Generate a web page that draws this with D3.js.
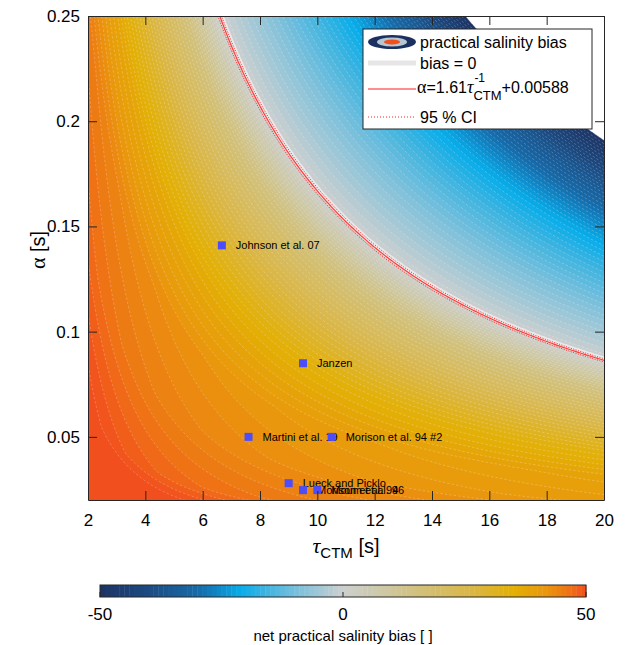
<!DOCTYPE html>
<html>
<head>
<meta charset="utf-8">
<script src="https://cdn.jsdelivr.net/npm/d3@7"></script>
<style>
    body { margin: 0; background: #fff; }
    text { font-family: "Liberation Sans", Arial, sans-serif; fill: #000; }
</style>
</head>
<body>
<div id="chart"></div>
<script>
// ——— DATA —————————————————————————————————————————————————————————
const tauDomain = [2, 20];
const alphaDomain = [0.02, 0.25];
const tauTicks = [2, 4, 6, 8, 10, 12, 14, 16, 18, 20];
const alphaTicks = [0.05, 0.1, 0.15, 0.2, 0.25];
const alphaTickLabels = ["0.05", "0.1", "0.15", "0.2", "0.25"];

const uKnots    = [0, 0.12, 0.28, 0.5, 0.75, 0.96, 1.34, 1.62, 2.2, 2.75, 3.2, 3.7, 5];
const biasKnots = [54, 47, 44, 42, 36, 29, 15, 0, -11, -22, -34, -50, -90];
// positive bias weakens slowly with tau: factor (tau / tauRef) ^ -tauExp
const tauRef = [6];
const tauExp = [0.07];

const levels = d3.range(-50, 51, 1);

// fit  alpha = a / tau + b, and the 95 % CI bounds
const fitCoef = [1.61, 0.00588];
const ciLow = [1.595, 0.00588];
const ciHigh = [1.625, 0.00588];

const pointNames = ["Johnson et al. 07", "Janzen", "Martini et al. 19", "Morison et al. 94 #2",
    "Lueck and Picklo", "Morison et al. 94", "Moum et al. 96"];
const pointTau = [6.67, 9.5, 7.6, 10.5, 9.0, 9.5, 10.0];
const pointAlpha = [0.141, 0.085, 0.05, 0.05, 0.028, 0.0247, 0.0247];

const cbTicks = [-50, 0, 50];
const cmapStops = [-50, -40, -30, -25, -21, -16, -10, -4, 0, 6, 16, 27, 35, 41, 46, 50];
const cmapColors = ["#1c3363", "#1c4b82", "#1769a8", "#0e8dcc", "#08adea", "#3db4e0", "#76bfdc",
    "#a9c9d5", "#cdcfcf", "#cdcab0", "#d2c07a", "#dbb642", "#e2b005", "#e89a0c", "#ee7814", "#f24f1e"];

// ——— SETUP ————————————————————————————————————————————————————————
const width = 628;
const height = 645;
const plot = { x0: 88, x1: 604, y0: 16, y1: 500 };
const axisColor = "#262626";

const svg = d3.select("#chart").append("svg")
    .attr("width", width)
    .attr("height", height);

const xScale = d3.scaleLinear().domain(tauDomain).range([plot.x0, plot.x1]);
const yScale = d3.scaleLinear().domain(alphaDomain).range([plot.y1, plot.y0]);
const biasOfU = d3.scaleLinear().domain(uKnots).range(biasKnots).clamp(false);
const color = d3.scaleLinear().domain(cmapStops).range(cmapColors).clamp(true);

function bias(tau, alpha) {
    const b = biasOfU((alpha - fitCoef[1]) * tau);
    return b > 0 ? b * Math.pow(tau / tauRef[0], -tauExp[0]) : b;
}

svg.append("clipPath").attr("id", "plotClip")
    .append("rect")
    .attr("x", plot.x0).attr("y", plot.y0)
    .attr("width", plot.x1 - plot.x0).attr("height", plot.y1 - plot.y0);

// ——— FIELD ————————————————————————————————————————————————————————
// one extra cell on every side so the grid border lies outside the clip
const nx = 261, ny = 245;
const dTau = (tauDomain[1] - tauDomain[0]) / (nx - 3);
const dAlpha = (alphaDomain[1] - alphaDomain[0]) / (ny - 3);
const tauOf = (gx) => tauDomain[0] + (gx - 1.5) * dTau;
const alphaOf = (gy) => alphaDomain[1] - (gy - 1.5) * dAlpha;

const values = new Array(nx * ny);
for (let j = 0; j < ny; j++) {
    for (let i = 0; i < nx; i++) {
        values[j * nx + i] = bias(tauOf(i + 0.5), alphaOf(j + 0.5));
    }
}

const projection = d3.geoTransform({
    point: function (x, y) {
        this.stream.point(xScale(tauOf(x)), yScale(alphaOf(y)));
    }
});
const path = d3.geoPath(projection);
const contours = d3.contours().size([nx, ny]).thresholds(levels)(values);

const field = svg.append("g").attr("clip-path", "url(#plotClip)");

field.selectAll("path.band")
    .data(contours)
    .enter()
    .append("path")
    .attr("class", "band")
    .attr("d", path)
    .attr("fill", (d) => color(Math.min(d.value + 0.5, 50)))
    .attr("fill-rule", "evenodd")
    .attr("stroke", (d) => color(Math.min(d.value + 0.5, 50)))
    .attr("stroke-width", 0.3);

field.selectAll("path.iso")
    .data(contours.filter((d) => d.value !== 0))
    .enter()
    .append("path")
    .attr("class", "iso")
    .attr("d", path)
    .attr("fill", "none")
    .attr("stroke", "#fff")
    .attr("stroke-opacity", 0.32)
    .attr("stroke-width", 0.7)
    .attr("stroke-dasharray", "2.5,2");

// ——— ZERO LINE + FIT ——————————————————————————————————————————————
field.append("path")
    .datum(contours.find((d) => d.value === 0))
    .attr("d", path)
    .attr("fill", "none")
    .attr("stroke", "#e9e9e9")
    .attr("stroke-width", 5);

const tauLine = d3.range(6.3, 20.05, 0.05);
const fitLine = (coef) => d3.line()
    .x((t) => xScale(t))
    .y((t) => yScale(coef[0] / t + coef[1]))(tauLine);

field.append("path")
    .attr("d", fitLine(fitCoef))
    .attr("fill", "none")
    .attr("stroke", "#ff3b3b")
    .attr("stroke-width", 1.2);

[ciLow, ciHigh].forEach((c) => {
    field.append("path")
        .attr("d", fitLine(c))
        .attr("fill", "none")
        .attr("stroke", "#ff2020")
        .attr("stroke-width", 1)
        .attr("stroke-dasharray", "1,1.5");
});

// ——— POINTS ———————————————————————————————————————————————————————
const points = svg.append("g");
pointNames.forEach((name, k) => {
    const px = xScale(pointTau[k]);
    const py = yScale(pointAlpha[k]);
    points.append("rect")
        .attr("x", px - 4).attr("y", py - 4)
        .attr("width", 8).attr("height", 8)
        .attr("fill", "#4d4dfa");
    points.append("text")
        .attr("x", px + 14).attr("y", py)
        .attr("dy", "0.35em")
        .style("font-size", "11px")
        .text(name);
});

// ——— AXES —————————————————————————————————————————————————————————
const tick = 9;
const styleAxis = (g) => {
    g.selectAll("path,line").attr("stroke", axisColor);
    g.selectAll("text").style("font-size", "17px").attr("fill", "#000")
        .style("font-family", "'Liberation Sans', Arial, sans-serif");
};

svg.append("g")
    .attr("transform", `translate(0,${plot.y1})`)
    .call(d3.axisBottom(xScale).tickValues(tauTicks).tickSizeInner(-tick).tickSizeOuter(0).tickPadding(14))
    .call(styleAxis);
svg.append("g")
    .attr("transform", `translate(0,${plot.y0})`)
    .call(d3.axisTop(xScale).tickValues(tauTicks).tickSizeInner(-tick).tickSizeOuter(0).tickFormat(""))
    .call(styleAxis);
svg.append("g")
    .attr("transform", `translate(${plot.x0},0)`)
    .call(d3.axisLeft(yScale).tickValues(alphaTicks).tickSizeInner(-tick).tickSizeOuter(0).tickPadding(8)
        .tickFormat((d, i) => alphaTickLabels[i]))
    .call(styleAxis);
svg.append("g")
    .attr("transform", `translate(${plot.x1},0)`)
    .call(d3.axisRight(yScale).tickValues(alphaTicks).tickSizeInner(-tick).tickSizeOuter(0).tickFormat(""))
    .call(styleAxis);

// x label
const xl = svg.append("text")
    .attr("x", (plot.x0 + plot.x1) / 2)
    .attr("y", 553)
    .attr("text-anchor", "middle")
    .style("font-size", "20px");
xl.append("tspan").style("font-family", "'Liberation Serif', serif").style("font-style", "italic")
    .style("font-size", "22px").text("τ");
xl.append("tspan").attr("dy", 5).style("font-size", "15px").text("CTM");
xl.append("tspan").attr("dy", -5).text(" [s]");

// y label
const yl = svg.append("text")
    .attr("transform", "translate(45,250) rotate(-90)")
    .attr("text-anchor", "middle")
    .style("font-size", "20px");
yl.append("tspan").style("font-family", "'Liberation Serif', serif").style("font-size", "22px").text("α");
yl.append("tspan").text(" [s]");

// ——— LEGEND ———————————————————————————————————————————————————————
const lg = svg.append("g");
lg.append("rect")
    .attr("x", 363).attr("y", 29)
    .attr("width", 229).attr("height", 100)
    .attr("fill", "#fff")
    .attr("stroke", axisColor);

const iconX = 392, textX = 420;
const rows = [42, 63, 89, 117];

lg.append("ellipse").attr("cx", iconX).attr("cy", rows[0]).attr("rx", 24).attr("ry", 7).attr("fill", "#1b2f60");
lg.append("ellipse").attr("cx", iconX).attr("cy", rows[0]).attr("rx", 15).attr("ry", 4.5).attr("fill", "#b6c7d0");
lg.append("ellipse").attr("cx", iconX).attr("cy", rows[0]).attr("rx", 8).attr("ry", 2.6).attr("fill", "#f24f1e");
lg.append("text").attr("x", textX).attr("y", rows[0] + 6).style("font-size", "16px").text("practical salinity bias");

lg.append("line").attr("x1", 368).attr("x2", 416).attr("y1", rows[1]).attr("y2", rows[1])
    .attr("stroke", "#e6e6e6").attr("stroke-width", 5);
lg.append("text").attr("x", textX).attr("y", rows[1] + 6).style("font-size", "16px").text("bias = 0");

lg.append("line").attr("x1", 368).attr("x2", 416).attr("y1", rows[2]).attr("y2", rows[2])
    .attr("stroke", "#ff6a6a").attr("stroke-width", 1.3);
const t1 = lg.append("text").attr("x", textX - 3).attr("y", rows[2] + 4).style("font-size", "16px");
t1.append("tspan").style("font-family", "'Liberation Serif', serif").style("font-size", "18px").text("α");
t1.append("tspan").text("=1.61");
t1.append("tspan").style("font-family", "'Liberation Serif', serif").style("font-style", "italic")
    .style("font-size", "18px").text("τ");
const w1 = t1.node().getComputedTextLength();
lg.append("text").attr("x", textX - 3 + w1 + 1).attr("y", rows[2] - 7).style("font-size", "12px").text("-1");
const sub = lg.append("text").attr("x", textX - 3 + w1).attr("y", rows[2] + 11).style("font-size", "13px").text("CTM");
const w2 = sub.node().getComputedTextLength();
lg.append("text").attr("x", textX - 3 + w1 + w2).attr("y", rows[2] + 4).style("font-size", "16px").text("+0.00588");

lg.append("line").attr("x1", 368).attr("x2", 416).attr("y1", rows[3]).attr("y2", rows[3])
    .attr("stroke", "#ff2020").attr("stroke-width", 1).attr("stroke-dasharray", "1,2");
lg.append("text").attr("x", textX).attr("y", rows[3] + 6).style("font-size", "16px").text("95 % CI");

// ——— COLORBAR —————————————————————————————————————————————————————
const cb = { x0: 100, x1: 586, y0: 585, y1: 597 };
const cbScale = d3.scaleLinear().domain([-50, 50]).range([cb.x0, cb.x1]);
const cbg = svg.append("g");
cbg.selectAll("rect.step")
    .data(levels.slice(0, -1))
    .enter()
    .append("rect")
    .attr("class", "step")
    .attr("x", (d) => cbScale(d))
    .attr("y", cb.y0)
    .attr("width", (d) => cbScale(d + 1) - cbScale(d) + 0.4)
    .attr("height", cb.y1 - cb.y0)
    .attr("fill", (d) => color(d + 0.5));
cbg.append("rect")
    .attr("x", cb.x0).attr("y", cb.y0)
    .attr("width", cb.x1 - cb.x0).attr("height", cb.y1 - cb.y0)
    .attr("fill", "none").attr("stroke", axisColor);
cbg.selectAll("line.cbt")
    .data(cbTicks)
    .enter()
    .append("line")
    .attr("x1", (d) => cbScale(d)).attr("x2", (d) => cbScale(d))
    .attr("y1", cb.y1).attr("y2", cb.y1 - 5)
    .attr("stroke", axisColor);
cbg.selectAll("text.cbl")
    .data(cbTicks)
    .enter()
    .append("text")
    .attr("x", (d) => cbScale(d))
    .attr("y", 620)
    .attr("text-anchor", "middle")
    .style("font-size", "17px")
    .text((d) => d);
cbg.append("text")
    .attr("x", (cb.x0 + cb.x1) / 2)
    .attr("y", 641)
    .attr("text-anchor", "middle")
    .style("font-size", "15px")
    .text("net practical salinity bias [ ]");
</script>
</body>
</html>
